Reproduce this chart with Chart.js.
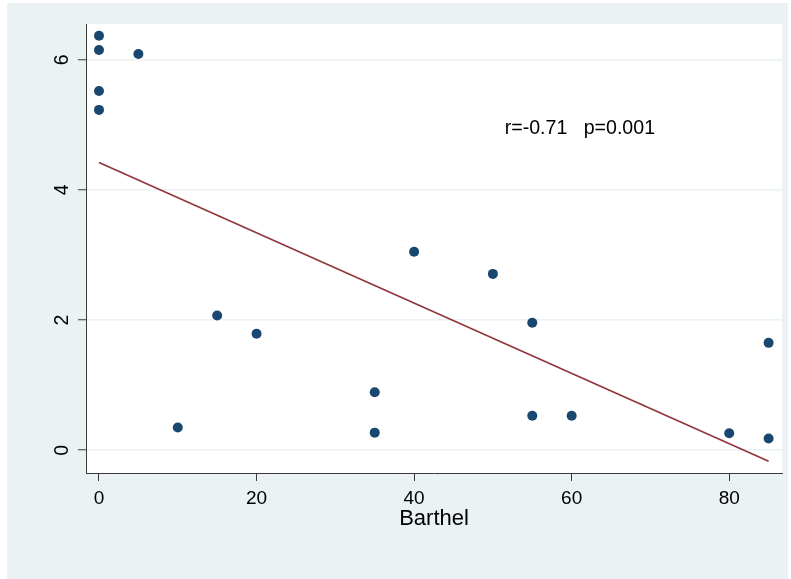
<!DOCTYPE html>
<html>
<head>
<meta charset="utf-8">
<script src="https://cdn.jsdelivr.net/npm/chart.js@4/dist/chart.umd.min.js"></script>
<style>
  html, body { margin: 0; padding: 0; background: #ffffff; }
  canvas { display: block; }
</style>
</head>
<body>
<canvas id="chart" width="791" height="579"></canvas>
<script>
// Barthel index against outcome score, with least-squares fit line
const barthel = [0, 0, 0, 0, 5, 10, 15, 20, 35, 35, 40, 50, 55, 55, 60, 80, 85, 85];
const outcome = [6.37, 6.15, 5.52, 5.23, 6.09, 0.35, 2.07, 1.79, 0.89, 0.27, 3.05, 2.71, 1.96, 0.53, 0.53, 0.26, 1.65, 0.18];

// fitted line end points
const fitX = [0, 85];
const fitY = [4.42, -0.17];

const xTicks = [0, 20, 40, 60, 80];
const yTicks = [0, 2, 4, 6];
const xTitle = 'Barthel';
const statsText = 'r=-0.71   p=0.001';
const statsPos = { x: 51.5, y: 4.95 };

const FONT = '"Liberation Sans", Arial, Helvetica, sans-serif';
const NAVY = '#1A476F';
const MAROON = '#90353B';
const REGION = '#EAF2F3';
const AXIS = '#3a3a3a';

const points = barthel.map((x, i) => ({ x: x, y: outcome[i] }));
const fitLine = fitX.map((x, i) => ({ x: x, y: fitY[i] }));

const backgroundPlugin = {
  id: 'stataBackground',
  beforeDraw(chart) {
    const { ctx, chartArea } = chart;
    ctx.save();
    ctx.fillStyle = '#ffffff';
    ctx.fillRect(0, 0, chart.width, chart.height);
    ctx.fillStyle = REGION;
    ctx.fillRect(7, 3, 781, chart.height - 3);
    ctx.fillStyle = '#ffffff';
    ctx.fillRect(chartArea.left, chartArea.top,
                 chartArea.right - chartArea.left, chartArea.bottom - chartArea.top);
    ctx.restore();
  }
};

const statsPlugin = {
  id: 'statsText',
  afterDatasetsDraw(chart) {
    const { ctx, scales } = chart;
    ctx.save();
    ctx.font = '19.6px ' + FONT;
    ctx.fillStyle = '#000000';
    ctx.textAlign = 'left';
    ctx.textBaseline = 'middle';
    ctx.fillText(statsText, scales.x.getPixelForValue(statsPos.x), scales.y.getPixelForValue(statsPos.y));
    ctx.restore();
  }
};

new Chart(document.getElementById('chart'), {
  data: {
    datasets: [
      {
        type: 'scatter',
        data: points,
        backgroundColor: NAVY,
        borderColor: NAVY,
        borderWidth: 0,
        pointRadius: 5,
        pointHoverRadius: 5
      },
      {
        type: 'line',
        data: fitLine,
        borderColor: MAROON,
        borderWidth: 1.6,
        pointRadius: 0,
        fill: false,
        tension: 0
      }
    ]
  },
  options: {
    responsive: false,
    animation: false,
    events: [],
    layout: { padding: { left: 0, top: 24, right: 9, bottom: 0 } },
    plugins: {
      legend: { display: false },
      tooltip: { enabled: false }
    },
    scales: {
      x: {
        type: 'linear',
        position: 'bottom',
        min: -1.65,
        max: 86.7,
        afterBuildTicks(scale) { scale.ticks = xTicks.map(v => ({ value: v })); },
        afterFit(scale) { scale.height = 106; },
        grid: {
          drawOnChartArea: false,
          drawTicks: true,
          tickLength: 8,
          tickColor: AXIS,
          tickWidth: 1
        },
        border: { display: true, color: AXIS, width: 1 },
        ticks: {
          autoSkip: false,
          maxRotation: 0,
          minRotation: 0,
          padding: 6,
          color: '#000000',
          font: { family: FONT, size: 19 }
        },
        title: {
          display: true,
          text: xTitle,
          color: '#000000',
          font: { family: FONT, size: 22 },
          padding: { top: 0, bottom: 47 }
        }
      },
      y: {
        type: 'linear',
        position: 'left',
        min: -0.35,
        max: 6.55,
        afterBuildTicks(scale) { scale.ticks = yTicks.map(v => ({ value: v })); },
        afterFit(scale) { scale.width = 86; },
        grid: {
          drawOnChartArea: true,
          color: REGION,
          lineWidth: 1.5,
          drawTicks: true,
          tickLength: 8,
          tickColor: AXIS,
          tickWidth: 1
        },
        border: { display: true, color: AXIS, width: 1 },
        ticks: {
          autoSkip: false,
          minRotation: 90,
          maxRotation: 90,
          crossAlign: 'center',
          padding: 10,
          color: '#000000',
          font: { family: FONT, size: 19.5 }
        }
      }
    }
  },
  plugins: [backgroundPlugin, statsPlugin]
});
</script>
</body>
</html>
